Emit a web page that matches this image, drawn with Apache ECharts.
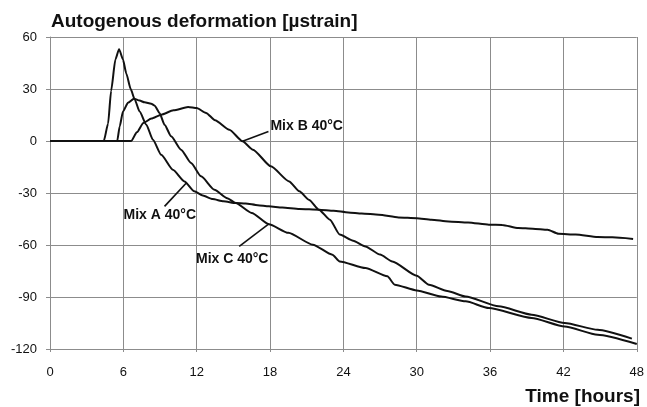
<!DOCTYPE html>
<html>
<head>
<meta charset="utf-8">
<script src="https://cdn.jsdelivr.net/npm/echarts@6/dist/echarts.min.js"></script>
<style>
html,body{margin:0;padding:0;background:#fff;}
#chart{width:647px;height:407px;}
</style>
</head>
<body>
<div id="chart"></div>
<script>
// ---- data (time in hours, deformation in µstrain) ----
const xTicks = [0, 6, 12, 18, 24, 30, 36, 42, 48];
const yTicks = [-120, -90, -60, -30, 0, 30, 60];

const mixA_time = [0, 4.4, 4.75, 5.0, 5.35, 5.65, 5.97, 6.24, 6.6, 6.93, 7.33, 7.88, 8.42, 9.1, 10.05, 11.0, 11.8, 12.5, 13.3, 14.2, 15.2, 16.0, 17.0, 17.9, 19.0, 20.4, 22.0, 23.2, 24.4, 25.5, 26.9, 28.5, 30.0, 31.2, 32.6, 34.2, 35.9, 37.0, 38.3, 39.5, 40.7, 41.6, 43.0, 44.8, 46.0, 47.7];
const mixA_strain = [0, 0, 10, 29, 47, 53, 47, 39, 30, 24, 17, 9.4, 0.7, -8, -16.6, -23.3, -29, -31.5, -33.5, -34.8, -35.8, -36, -37, -37.7, -38.4, -39.2, -39.6, -40.2, -41.2, -41.8, -42.5, -44.1, -44.5, -45.4, -46.4, -47.0, -48.3, -48.4, -50.2, -50.6, -51.2, -53.5, -54.0, -55.4, -55.6, -56.5];

const mixB_time = [0, 6.65, 7.1, 7.64, 8.3, 9.1, 10.1, 11.3, 12.0, 12.77, 13.5, 14.67, 15.75, 16.6, 18.07, 19.56, 20.4, 21.2, 22.0, 22.9, 23.7, 24.8, 25.8, 27.0, 28.0, 30.0, 31.0, 32.5, 34.0, 36.7, 39.4, 42.1, 44.8, 47.6];
const mixB_strain = [0, 0, 5, 10.4, 13, 15.2, 17.7, 19.6, 19.0, 16.2, 12.0, 6.5, -0.2, -5, -14.6, -23.3, -29, -34, -39.6, -45.4, -54, -57.5, -60.8, -65.5, -69.5, -77.7, -82.9, -86.5, -89.7, -95.4, -100.2, -105, -108.9, -114];

const mixC_time = [0, 5.5, 5.7, 5.97, 6.38, 6.87, 7.33, 7.74, 8.28, 8.56, 8.96, 9.37, 9.91, 10.72, 11.54, 12.36, 13.45, 14.5, 15.2, 16.5, 17.9, 19.5, 21.5, 23.1, 23.7, 25.8, 27.6, 28.2, 30.0, 32.0, 34.0, 35.9, 39.4, 42.1, 44.8, 48.0];
const mixC_strain = [0, 0, 8.4, 17, 22, 24.4, 23.3, 22.3, 21.5, 20.4, 16.2, 9.4, 2.7, -5, -12.7, -20.4, -28.1, -33, -35.8, -41.5, -48, -53, -59.8, -65.6, -69.5, -73.3, -78.1, -82.9, -86.2, -89.7, -92.5, -96.4, -102.1, -107, -111.8, -117.1];

// annotation labels: [text, text anchor (x,y), pointer start (x,y), pointer end (x,y)]
const labelNames = ['Mix A 40°C', 'Mix B 40°C', 'Mix C 40°C'];
const labelAnchor = [[5.97, -42.9], [17.99, 8.4], [11.9, -68.1]];
const pointerFrom = [[9.37, -37.7], [15.75, -0.2], [15.48, -60.8]];
const pointerTo = [[11.19, -23.9], [17.87, 5.5], [17.93, -47.7]];

function pairs(xs, ys) { return xs.map((x, i) => [x, ys[i]]); }

const gridColor = '#8c8c8c';
const font = '"Liberation Sans", Arial, Helvetica, sans-serif';

function makeSeries(name, xs, ys, idx) {
  return {
    name: name,
    type: 'line',
    data: pairs(xs, ys),
    showSymbol: false,
    smooth: 0.2,
    smoothMonotone: 'x',
    lineStyle: { color: '#111', width: 2 },
    itemStyle: { color: '#111' },
    silent: true,
    animation: false,
    markLine: {
      silent: true,
      symbol: ['none', 'none'],
      lineStyle: { color: '#111', width: 1.6, type: 'solid' },
      label: { show: false },
      data: [[{ coord: pointerFrom[idx] }, { coord: pointerTo[idx] }]]
    },
    markPoint: {
      silent: true,
      symbol: 'circle',
      symbolSize: 1,
      itemStyle: { color: 'rgba(0,0,0,0)' },
      label: {
        show: true,
        position: 'right',
        distance: 0,
        formatter: labelNames[idx],
        color: '#111',
        fontFamily: font,
        fontWeight: 'bold',
        fontSize: 14
      },
      data: [{ coord: labelAnchor[idx] }]
    }
  };
}

const chart = echarts.init(document.getElementById('chart'), null, { renderer: 'canvas' });
chart.setOption({
  backgroundColor: '#fff',
  animation: false,
  title: [
    {
      text: 'Autogenous deformation [µstrain]',
      left: 46, top: 7,
      textStyle: { fontFamily: font, fontWeight: 'bold', fontSize: 19, color: '#111' }
    },
    {
      text: 'Time [hours]',
      right: 2, top: 382,
      textStyle: { fontFamily: font, fontWeight: 'bold', fontSize: 19, color: '#111' }
    }
  ],
  grid: { left: 50, right: 7, top: 37, bottom: 58, containLabel: false },
  xAxis: {
    type: 'value',
    min: xTicks[0], max: xTicks[xTicks.length - 1], interval: 6,
    axisLine: { onZero: false, lineStyle: { color: gridColor, width: 1 } },
    axisTick: { show: true, length: 3, lineStyle: { color: gridColor } },
    splitLine: { show: true, lineStyle: { color: gridColor, width: 1 } },
    axisLabel: { color: '#111', fontFamily: font, fontSize: 13, margin: 17 }
  },
  yAxis: {
    type: 'value',
    min: yTicks[0], max: yTicks[yTicks.length - 1], interval: 30,
    axisLine: { show: true, lineStyle: { color: gridColor, width: 1 } },
    axisTick: { show: true, length: 4, lineStyle: { color: gridColor } },
    splitLine: { show: true, lineStyle: { color: gridColor, width: 1 } },
    axisLabel: { color: '#111', fontFamily: font, fontSize: 13, margin: 13 }
  },
  series: [
    makeSeries('Mix A 40°C', mixA_time, mixA_strain, 0),
    makeSeries('Mix B 40°C', mixB_time, mixB_strain, 1),
    makeSeries('Mix C 40°C', mixC_time, mixC_strain, 2)
  ]
});
</script>
</body>
</html>
